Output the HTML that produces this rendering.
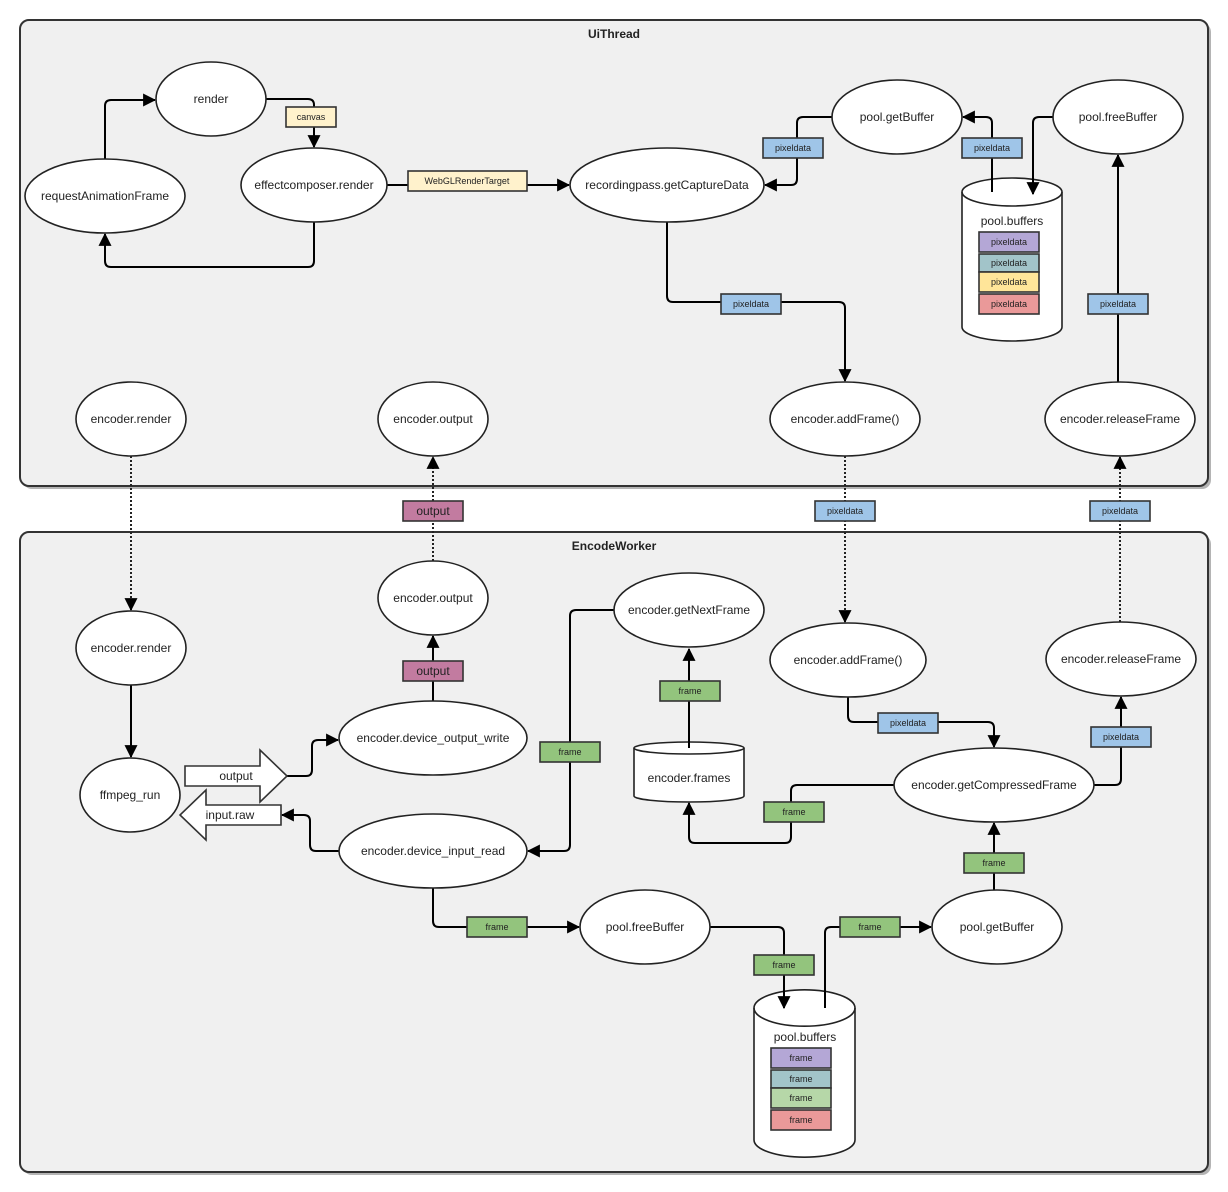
<!DOCTYPE html>
<html><head><meta charset="utf-8"><style>
html,body{margin:0;padding:0;background:#fff;}
svg{display:block;font-family:"Liberation Sans",sans-serif;}
.e{fill:#fff;stroke:#222;stroke-width:1.6;}
.t{font-size:12px;fill:#222;text-anchor:middle;dominant-baseline:central;}
.s{font-size:9px;fill:#222;text-anchor:middle;dominant-baseline:central;}
.c{fill:none;stroke:#000;stroke-width:2;stroke-linejoin:round;}
.d{fill:none;stroke:#222;stroke-width:2;stroke-dasharray:2,2;}
.lb{stroke:#333;stroke-width:1.6;}
</style></head><body>
<svg width="1228" height="1192" viewBox="0 0 1228 1192" xmlns="http://www.w3.org/2000/svg">
<defs>
<marker id="a" viewBox="0 0 12 12" refX="11" refY="6" markerWidth="13" markerHeight="13" orient="auto" markerUnits="userSpaceOnUse">
<path d="M0,0 L12,6 L0,12 z" fill="#000"/>
</marker>
</defs>
<!-- containers -->
<rect x="23" y="23" width="1188" height="466" rx="9" fill="#b4b4b4"/>
<rect x="20" y="20" width="1188" height="466" rx="9" fill="#f0f0f0" stroke="#333" stroke-width="2"/>
<text x="614" y="34" class="t" style="font-weight:bold;font-size:12px">UiThread</text>
<rect x="23" y="535" width="1188" height="640" rx="9" fill="#b4b4b4"/>
<rect x="20" y="532" width="1188" height="640" rx="9" fill="#f0f0f0" stroke="#333" stroke-width="2"/>
<text x="614" y="546" class="t" style="font-weight:bold;font-size:12px">EncodeWorker</text>

<!-- cylinders -->
<path class="e" d="M962,192 A50,14 0 0 1 1062,192 V327 A50,14 0 0 1 962,327 Z"/>
<path fill="none" stroke="#222" stroke-width="1.6" d="M962,192 A50,14 0 0 0 1062,192"/>
<text class="t" x="1012" y="221">pool.buffers</text>
<path class="e" d="M634,748 A55,6 0 0 1 744,748 V796 A55,6 0 0 1 634,796 Z"/>
<path fill="none" stroke="#222" stroke-width="1.6" d="M634,748 A55,6 0 0 0 744,748"/>
<text class="t" x="689" y="778">encoder.frames</text>
<path class="e" d="M754,1008 A50,18 0 0 1 855,1008 V1140 A50,17 0 0 1 754,1140 Z"/>
<path fill="none" stroke="#222" stroke-width="1.6" d="M754,1008 A50,18 0 0 0 855,1008"/>
<text class="t" x="805" y="1037">pool.buffers</text>

<!-- connectors -->
<path class="c" d="M105,159 V106 Q105,100 111,100 H155" marker-end="url(#a)"/>
<path class="c" d="M266,99 H308 Q314,99 314,105 V147" marker-end="url(#a)"/>
<path class="c" d="M314,222 V261 Q314,267 308,267 H111 Q105,267 105,261 V234" marker-end="url(#a)"/>
<path class="c" d="M387,185 H569" marker-end="url(#a)"/>
<path class="c" d="M832,117 H803 Q797,117 797,123 V179 Q797,185 791,185 H765" marker-end="url(#a)"/>
<path class="c" d="M992,192 V123 Q992,117 986,117 H963" marker-end="url(#a)"/>
<path class="c" d="M1053,117 H1039 Q1033,117 1033,123 V194" marker-end="url(#a)"/>
<path class="c" d="M667,222 V296 Q667,302 673,302 H839 Q845,302 845,308 V381" marker-end="url(#a)"/>
<path class="c" d="M1118,382 V155" marker-end="url(#a)"/>
<path class="d" d="M131,456 V610" marker-end="url(#a)"/>
<path class="d" d="M433,561 V457" marker-end="url(#a)"/>
<path class="d" d="M845,456 V622" marker-end="url(#a)"/>
<path class="d" d="M1120,622 V457" marker-end="url(#a)"/>
<path class="c" d="M131,685 V757" marker-end="url(#a)"/>
<path class="c" d="M433,701 V636" marker-end="url(#a)"/>
<path class="c" d="M287,776 H306 Q312,776 312,770 V746 Q312,740 318,740 H338" marker-end="url(#a)"/>
<path class="c" d="M339,851 H316 Q310,851 310,845 V821 Q310,815 304,815 H282" marker-end="url(#a)"/>
<path class="c" d="M614,610 H576 Q570,610 570,616 V845 Q570,851 564,851 H528" marker-end="url(#a)"/>
<path class="c" d="M689,748 V649" marker-end="url(#a)"/>
<path class="c" d="M894,785 H797 Q791,785 791,791 V837 Q791,843 785,843 H695 Q689,843 689,837 V803" marker-end="url(#a)"/>
<path class="c" d="M848,697 V716 Q848,722 854,722 H988 Q994,722 994,728 V747" marker-end="url(#a)"/>
<path class="c" d="M1094,785 H1115 Q1121,785 1121,779 V697" marker-end="url(#a)"/>
<path class="c" d="M994,890 V823" marker-end="url(#a)"/>
<path class="c" d="M433,888 V921 Q433,927 439,927 H579" marker-end="url(#a)"/>
<path class="c" d="M710,927 H778 Q784,927 784,933 V1008" marker-end="url(#a)"/>
<path class="c" d="M825,1008 V933 Q825,927 831,927 H931" marker-end="url(#a)"/>

<!-- block arrows -->
<polygon points="185,766 260,766 260,750 287,776 260,802 260,786 185,786" fill="#fff" stroke="#333" stroke-width="1.6"/>
<text x="236" y="776" class="t">output</text>
<polygon points="281,805 206,805 206,790 180,815 206,840 206,825 281,825" fill="#fff" stroke="#333" stroke-width="1.6"/>
<text x="230" y="815" class="t">input.raw</text>

<!-- ellipses -->
<g>
<ellipse class="e" cx="211" cy="99" rx="55" ry="37"/><text class="t" x="211" y="99">render</text>
<ellipse class="e" cx="105" cy="196" rx="80" ry="37"/><text class="t" x="105" y="196">requestAnimationFrame</text>
<ellipse class="e" cx="314" cy="185" rx="73" ry="37"/><text class="t" x="314" y="185">effectcomposer.render</text>
<ellipse class="e" cx="667" cy="185" rx="97" ry="37"/><text class="t" x="667" y="185">recordingpass.getCaptureData</text>
<ellipse class="e" cx="897" cy="117" rx="65" ry="37"/><text class="t" x="897" y="117">pool.getBuffer</text>
<ellipse class="e" cx="1118" cy="117" rx="65" ry="37"/><text class="t" x="1118" y="117">pool.freeBuffer</text>
<ellipse class="e" cx="131" cy="419" rx="55" ry="37"/><text class="t" x="131" y="419">encoder.render</text>
<ellipse class="e" cx="433" cy="419" rx="55" ry="37"/><text class="t" x="433" y="419">encoder.output</text>
<ellipse class="e" cx="845" cy="419" rx="75" ry="37"/><text class="t" x="845" y="419">encoder.addFrame()</text>
<ellipse class="e" cx="1120" cy="419" rx="75" ry="37"/><text class="t" x="1120" y="419">encoder.releaseFrame</text>
<ellipse class="e" cx="131" cy="648" rx="55" ry="37"/><text class="t" x="131" y="648">encoder.render</text>
<ellipse class="e" cx="433" cy="598" rx="55" ry="37"/><text class="t" x="433" y="598">encoder.output</text>
<ellipse class="e" cx="689" cy="610" rx="75" ry="37"/><text class="t" x="689" y="610">encoder.getNextFrame</text>
<ellipse class="e" cx="848" cy="660" rx="78" ry="37"/><text class="t" x="848" y="660">encoder.addFrame()</text>
<ellipse class="e" cx="1121" cy="659" rx="75" ry="37"/><text class="t" x="1121" y="659">encoder.releaseFrame</text>
<ellipse class="e" cx="130" cy="795" rx="50" ry="37"/><text class="t" x="130" y="795">ffmpeg_run</text>
<ellipse class="e" cx="433" cy="738" rx="94" ry="37"/><text class="t" x="433" y="738">encoder.device_output_write</text>
<ellipse class="e" cx="433" cy="851" rx="94" ry="37"/><text class="t" x="433" y="851">encoder.device_input_read</text>
<ellipse class="e" cx="994" cy="785" rx="100" ry="37"/><text class="t" x="994" y="785">encoder.getCompressedFrame</text>
<ellipse class="e" cx="645" cy="927" rx="65" ry="37"/><text class="t" x="645" y="927">pool.freeBuffer</text>
<ellipse class="e" cx="997" cy="927" rx="65" ry="37"/><text class="t" x="997" y="927">pool.getBuffer</text>
</g>

<!-- labels -->
<g>
<rect class="lb" x="286" y="107" width="50" height="20" fill="#fff2cc"/><text class="s" x="311" y="117">canvas</text>
<rect class="lb" x="408" y="171" width="119" height="20" fill="#fff2cc"/><text class="s" x="467" y="181">WebGLRenderTarget</text>
<rect class="lb" x="763" y="138" width="60" height="20" fill="#9fc5e8"/><text class="s" x="793" y="148">pixeldata</text>
<rect class="lb" x="962" y="138" width="60" height="20" fill="#9fc5e8"/><text class="s" x="992" y="148">pixeldata</text>
<rect class="lb" x="721" y="294" width="60" height="20" fill="#9fc5e8"/><text class="s" x="751" y="304">pixeldata</text>
<rect class="lb" x="1088" y="294" width="60" height="20" fill="#9fc5e8"/><text class="s" x="1118" y="304">pixeldata</text>
<rect class="lb" x="815" y="501" width="60" height="20" fill="#9fc5e8"/><text class="s" x="845" y="511">pixeldata</text>
<rect class="lb" x="1090" y="501" width="60" height="20" fill="#9fc5e8"/><text class="s" x="1120" y="511">pixeldata</text>
<rect class="lb" x="878" y="713" width="60" height="20" fill="#9fc5e8"/><text class="s" x="908" y="723">pixeldata</text>
<rect class="lb" x="1091" y="727" width="60" height="20" fill="#9fc5e8"/><text class="s" x="1121" y="737">pixeldata</text>
<rect class="lb" x="403" y="501" width="60" height="20" fill="#c27ba0"/><text class="t" x="433" y="511">output</text>
<rect class="lb" x="403" y="661" width="60" height="20" fill="#c27ba0"/><text class="t" x="433" y="671">output</text>
<rect class="lb" x="660" y="681" width="60" height="20" fill="#93c47d"/><text class="s" x="690" y="691">frame</text>
<rect class="lb" x="540" y="742" width="60" height="20" fill="#93c47d"/><text class="s" x="570" y="752">frame</text>
<rect class="lb" x="764" y="802" width="60" height="20" fill="#93c47d"/><text class="s" x="794" y="812">frame</text>
<rect class="lb" x="964" y="853" width="60" height="20" fill="#93c47d"/><text class="s" x="994" y="863">frame</text>
<rect class="lb" x="467" y="917" width="60" height="20" fill="#93c47d"/><text class="s" x="497" y="927">frame</text>
<rect class="lb" x="754" y="955" width="60" height="20" fill="#93c47d"/><text class="s" x="784" y="965">frame</text>
<rect class="lb" x="840" y="917" width="60" height="20" fill="#93c47d"/><text class="s" x="870" y="927">frame</text>
</g>
<!-- stacks -->
<g>
<rect class="lb" x="979" y="232" width="60" height="20" fill="#b4a7d6"/><text class="s" x="1009" y="242">pixeldata</text>
<rect class="lb" x="979" y="254" width="60" height="18" fill="#a2c4c9"/><text class="s" x="1009" y="263">pixeldata</text>
<rect class="lb" x="979" y="272" width="60" height="20" fill="#ffe599"/><text class="s" x="1009" y="282">pixeldata</text>
<rect class="lb" x="979" y="294" width="60" height="20" fill="#ea9999"/><text class="s" x="1009" y="304">pixeldata</text>
<rect class="lb" x="771" y="1048" width="60" height="20" fill="#b4a7d6"/><text class="s" x="801" y="1058">frame</text>
<rect class="lb" x="771" y="1070" width="60" height="18" fill="#a2c4c9"/><text class="s" x="801" y="1079">frame</text>
<rect class="lb" x="771" y="1088" width="60" height="20" fill="#b6d7a8"/><text class="s" x="801" y="1098">frame</text>
<rect class="lb" x="771" y="1110" width="60" height="20" fill="#ea9999"/><text class="s" x="801" y="1120">frame</text>
</g>
</svg>
</body></html>
